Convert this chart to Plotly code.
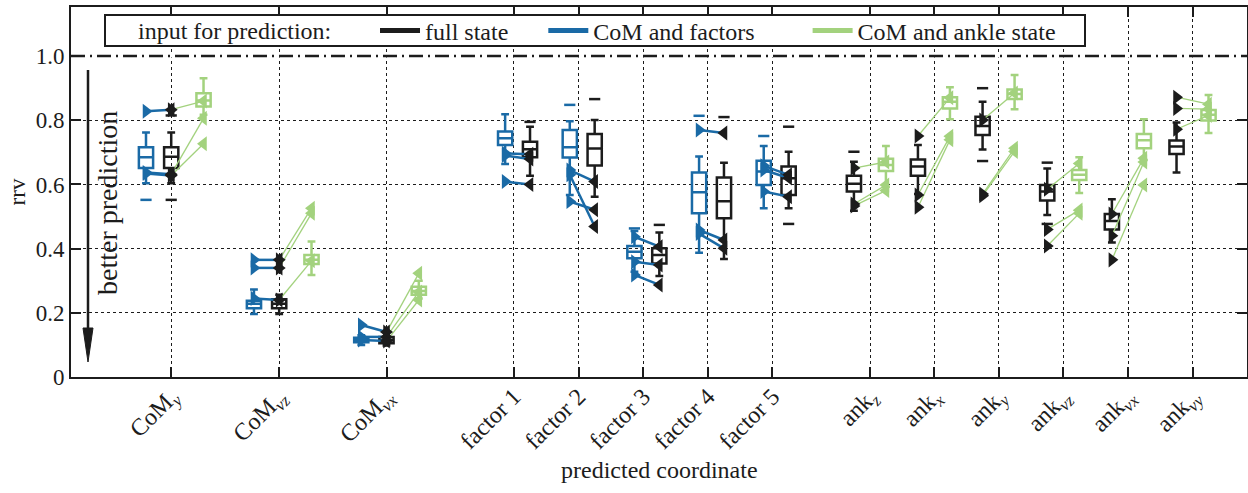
import plotly.graph_objects as go

# ---------------- data ----------------
categories = ["CoM<sub><i>y</i></sub>", "CoM<sub><i>vz</i></sub>", "CoM<sub><i>vx</i></sub>",
              "factor 1", "factor 2", "factor 3", "factor 4", "factor 5",
              "ank<sub><i>z</i></sub>", "ank<sub><i>x</i></sub>", "ank<sub><i>y</i></sub>",
              "ank<sub><i>vz</i></sub>", "ank<sub><i>vx</i></sub>", "ank<sub><i>vy</i></sub>"]
series_names = ["full state", "CoM and factors", "CoM and ankle state"]
legend_title = "input for prediction:"

# CoM and factors (blue): groups 0..7
blue_groups = [0, 1, 2, 3, 4, 5, 6, 7]
blue_lf = [0.604, 0.196, 0.100, 0.664, 0.567, 0.328, 0.387, 0.526]
blue_q1 = [0.651, 0.214, 0.108, 0.723, 0.684, 0.370, 0.510, 0.598]
blue_med = [0.685, 0.228, 0.115, 0.744, 0.716, 0.390, 0.576, 0.640]
blue_q3 = [0.716, 0.238, 0.122, 0.765, 0.770, 0.408, 0.637, 0.674]
blue_uf = [0.762, 0.273, 0.130, 0.819, 0.797, 0.455, 0.687, 0.720]
blue_out_group = [0, 4, 5, 6, 7]
blue_out_val = [0.552, 0.848, 0.463, 0.814, 0.751]

# full state (black): all 14 groups
black_groups = list(range(14))
black_lf = [0.604, 0.196, 0.098, 0.627, 0.562, 0.315, 0.368, 0.526, 0.518, 0.570, 0.709, 0.505, 0.419, 0.637]
black_q1 = [0.651, 0.214, 0.105, 0.685, 0.659, 0.354, 0.495, 0.567, 0.578, 0.627, 0.754, 0.550, 0.460, 0.695]
black_med = [0.686, 0.228, 0.115, 0.710, 0.712, 0.380, 0.548, 0.619, 0.602, 0.656, 0.782, 0.578, 0.486, 0.718]
black_q3 = [0.716, 0.242, 0.125, 0.733, 0.757, 0.401, 0.622, 0.656, 0.627, 0.678, 0.811, 0.598, 0.508, 0.737]
black_uf = [0.762, 0.256, 0.140, 0.780, 0.801, 0.450, 0.668, 0.702, 0.671, 0.723, 0.858, 0.650, 0.554, 0.793]
black_out_group = [0, 0, 3, 4, 5, 6, 7, 7, 8, 10, 10, 11, 11]
black_out_val = [0.552, 0.815, 0.795, 0.866, 0.474, 0.810, 0.780, 0.477, 0.702, 0.900, 0.673, 0.668, 0.477]

# CoM and ankle state (green)
green_groups = [0, 1, 2, 8, 9, 10, 11, 12, 13]
green_lf = [0.817, 0.318, 0.245, 0.593, 0.803, 0.834, 0.573, 0.676, 0.760]
green_q1 = [0.843, 0.352, 0.256, 0.642, 0.837, 0.866, 0.614, 0.713, 0.799]
green_med = [0.862, 0.365, 0.268, 0.661, 0.858, 0.882, 0.630, 0.738, 0.817]
green_q3 = [0.884, 0.380, 0.281, 0.680, 0.872, 0.896, 0.645, 0.757, 0.832]
green_uf = [0.931, 0.422, 0.300, 0.720, 0.903, 0.941, 0.685, 0.803, 0.879]

# individually tracked cases (3 per group)
track_blue = [[0.828, 0.637, 0.634], [0.365, 0.340, 0.245], [0.162, 0.125, 0.115],
              [0.697, 0.690, 0.609], [0.645, 0.630, 0.547], [0.437, 0.359, 0.318],
              [0.770, 0.458, 0.447], [0.658, 0.645, 0.578]]
track_black = [[0.833, 0.632, 0.628], [0.365, 0.340, 0.240], [0.140, 0.125, 0.112],
               [0.694, 0.679, 0.600], [0.609, 0.469, 0.521], [0.406, 0.349, 0.287],
               [0.760, 0.427, 0.401], [0.630, 0.620, 0.562], [0.651, 0.539, 0.533],
               [0.751, 0.567, 0.529], [0.801, 0.570, 0.565], [0.585, 0.460, 0.408],
               [0.508, 0.440, 0.365], [0.872, 0.837, 0.772]]
track_green = [[0.860, 0.806, 0.727], [0.526, 0.510, 0.362], [0.323, 0.265, 0.240],
               [0.670, 0.598, 0.581], [0.870, 0.750, 0.739], [0.885, 0.713, 0.703],
               [0.665, 0.520, 0.510], [0.682, 0.670, 0.598], [0.850, 0.835, 0.815]]

# ---------------- layout helpers ----------------
tick_x = [1.55, 3.22, 4.88, 6.85, 7.85, 8.85, 9.85, 10.85, 12.36, 13.35, 14.35, 15.35, 16.35, 17.35]
kind = ["com"] * 3 + ["fac"] * 5 + ["ank"] * 6
offset = {"blue": {"com": -0.39, "fac": -0.135},
          "black": {"com": 0.0, "fac": 0.25, "ank": -0.25},
          "green": {"com": 0.5, "ank": 0.245}}

BLUE = "#1a6aa6"
BLACK = "#1c1c1c"
GREEN = "#a3d27e"
FONT = "Liberation Serif"

W, H = 1248, 493
L, R, T, B = 71, 1, 7, 116
PW, PH = W - L - R, H - T - B


def px_x(p):
    return (p - L) / PW


def px_y(p):
    return (H - B - p) / PH


def pos(color, g):
    return tick_x[g] + offset[color][kind[g]]


fig = go.Figure()


def add_boxes(color, col, groups, lf, q1, med, q3, uf):
    fig.add_trace(go.Box(
        x=[pos(color, g) for g in groups], q1=q1, median=med, q3=q3,
        lowerfence=lf, upperfence=uf, boxpoints=False, width=0.22,
        whiskerwidth=0.55, line=dict(color=col, width=2.5),
        fillcolor="rgba(255,255,255,0)", showlegend=False, hoverinfo="skip"))


add_boxes("blue", BLUE, blue_groups, blue_lf, blue_q1, blue_med, blue_q3, blue_uf)
add_boxes("black", BLACK, black_groups, black_lf, black_q1, black_med, black_q3, black_uf)
add_boxes("green", GREEN, green_groups, green_lf, green_q1, green_med, green_q3, green_uf)

# outliers as short dashes
for color, col, og, ov in [("blue", BLUE, blue_out_group, blue_out_val),
                           ("black", BLACK, black_out_group, black_out_val)]:
    fig.add_trace(go.Scatter(
        x=[pos(color, g) for g in og], y=ov, mode="markers",
        marker=dict(symbol="line-ew", size=8, line=dict(color=col, width=2.5)),
        showlegend=False, hoverinfo="skip"))

# connecting lines for tracked cases
lx, ly = [], []
for i, g in enumerate(blue_groups):
    for a, b in zip(track_blue[i], track_black[g]):
        lx += [pos("blue", g), pos("black", g), None]
        ly += [a, b, None]
fig.add_trace(go.Scatter(x=lx, y=ly, mode="lines", line=dict(color=BLUE, width=2.5),
                         showlegend=False, hoverinfo="skip"))
gx, gy = [], []
for i, g in enumerate(green_groups):
    for a, b in zip(track_black[g], track_green[i]):
        gx += [pos("black", g), pos("green", g), None]
        gy += [a, b, None]
fig.add_trace(go.Scatter(x=gx, y=gy, mode="lines", line=dict(color=GREEN, width=1.3),
                         showlegend=False, hoverinfo="skip"))


def tri(color, col, groups, vals, symbol):
    xs, ys = [], []
    for i, g in enumerate(groups):
        for v in vals[i]:
            xs.append(pos(color, g))
            ys.append(v)
    fig.add_trace(go.Scatter(x=xs, y=ys, mode="markers",
                             marker=dict(symbol=symbol, size=13, color=col, line=dict(width=0)),
                             showlegend=False, hoverinfo="skip"))


tri("blue", BLUE, blue_groups, track_blue, "triangle-right")
tri("black", BLACK, blue_groups, [track_black[g] for g in blue_groups], "triangle-left")
tri("black", BLACK, green_groups, [track_black[g] for g in green_groups], "triangle-right")
tri("green", GREEN, green_groups, track_green, "triangle-left")

# legend entries
pads = ["\u00a0" * 5, "\u00a0" * 8, ""]
for name, col, pad in zip(series_names, [BLACK, BLUE, GREEN], pads):
    fig.add_trace(go.Scatter(x=[None], y=[None], mode="lines", name=name + pad,
                             line=dict(color=col, width=5)))

# reference line at 1.0
fig.add_hline(y=1.0, line=dict(color="white", width=3))
fig.add_hline(y=1.0, line=dict(color=BLACK, width=2.5, dash="14px,5px,2px,5px"))

# legend frame + title
fig.add_shape(type="rect", xref="paper", yref="paper",
              x0=px_x(105), x1=px_x(1085), y0=px_y(46), y1=px_y(15),
              fillcolor="white", line=dict(color=BLACK, width=2))
fig.add_annotation(text=legend_title, xref="paper", yref="paper", x=px_x(136), y=px_y(31),
                   xanchor="left", yanchor="middle", showarrow=False,
                   font=dict(family=FONT, size=24, color=BLACK))

# "better prediction" arrow
AX = px_x(88)
fig.add_shape(type="line", xref="paper", yref="paper", x0=AX, x1=AX, y0=px_y(70), y1=px_y(340),
              line=dict(color=BLACK, width=2.5))
fig.add_shape(type="path", xref="paper", yref="paper",
              path=f"M {px_x(83)} {px_y(328)} L {px_x(93)} {px_y(328)} L {AX} {px_y(362)} Z",
              fillcolor=BLACK, line=dict(color=BLACK, width=1))
fig.add_annotation(text="better prediction", textangle=-90, xref="paper", yref="paper",
                   x=px_x(108), y=px_y(203), xanchor="center", yanchor="middle",
                   showarrow=False, font=dict(family=FONT, size=28, color=BLACK))

# x axis title
fig.add_annotation(text="predicted coordinate", xref="paper", yref="paper",
                   x=0.5, y=px_y(470), xanchor="center", yanchor="middle",
                   showarrow=False, font=dict(family=FONT, size=24, color=BLACK))

axis_common = dict(showline=True, linewidth=2, linecolor=BLACK, mirror="ticks",
                   ticks="inside", ticklen=10, tickwidth=1.5, tickcolor=BLACK,
                   showgrid=True, gridcolor=BLACK, griddash="dot", gridwidth=1,
                   zeroline=False, automargin=False)

fig.update_layout(
    width=W, height=H,
    margin=dict(l=L, r=R, t=T, b=B),
    plot_bgcolor="white", paper_bgcolor="white",
    font=dict(family=FONT, size=23, color=BLACK),
    xaxis=dict(range=[0, 18.19], tickvals=tick_x, ticktext=categories, tickangle=-45,
               tickfont=dict(family=FONT, size=24), ticklabelstandoff=-6, **axis_common),
    yaxis=dict(range=[0, 1.153], tickvals=[0, 0.2, 0.4, 0.6, 0.8, 1.0],
               ticktext=["0", "0.2", "0.4", "0.6", "0.8", "1.0"],
               tickfont=dict(family=FONT, size=23),
               title=dict(text="rrv", standoff=4, font=dict(family=FONT, size=23)),
               **axis_common),
    legend=dict(orientation="h", x=px_x(375), y=px_y(31),
                xanchor="left", yanchor="middle", bgcolor="rgba(0,0,0,0)",
                borderwidth=0, font=dict(family=FONT, size=24), itemwidth=40),
    showlegend=True,
)

fig.write_html("out.html", config={"displayModeBar": False},
               post_script="document.body.style.margin='0px';")
